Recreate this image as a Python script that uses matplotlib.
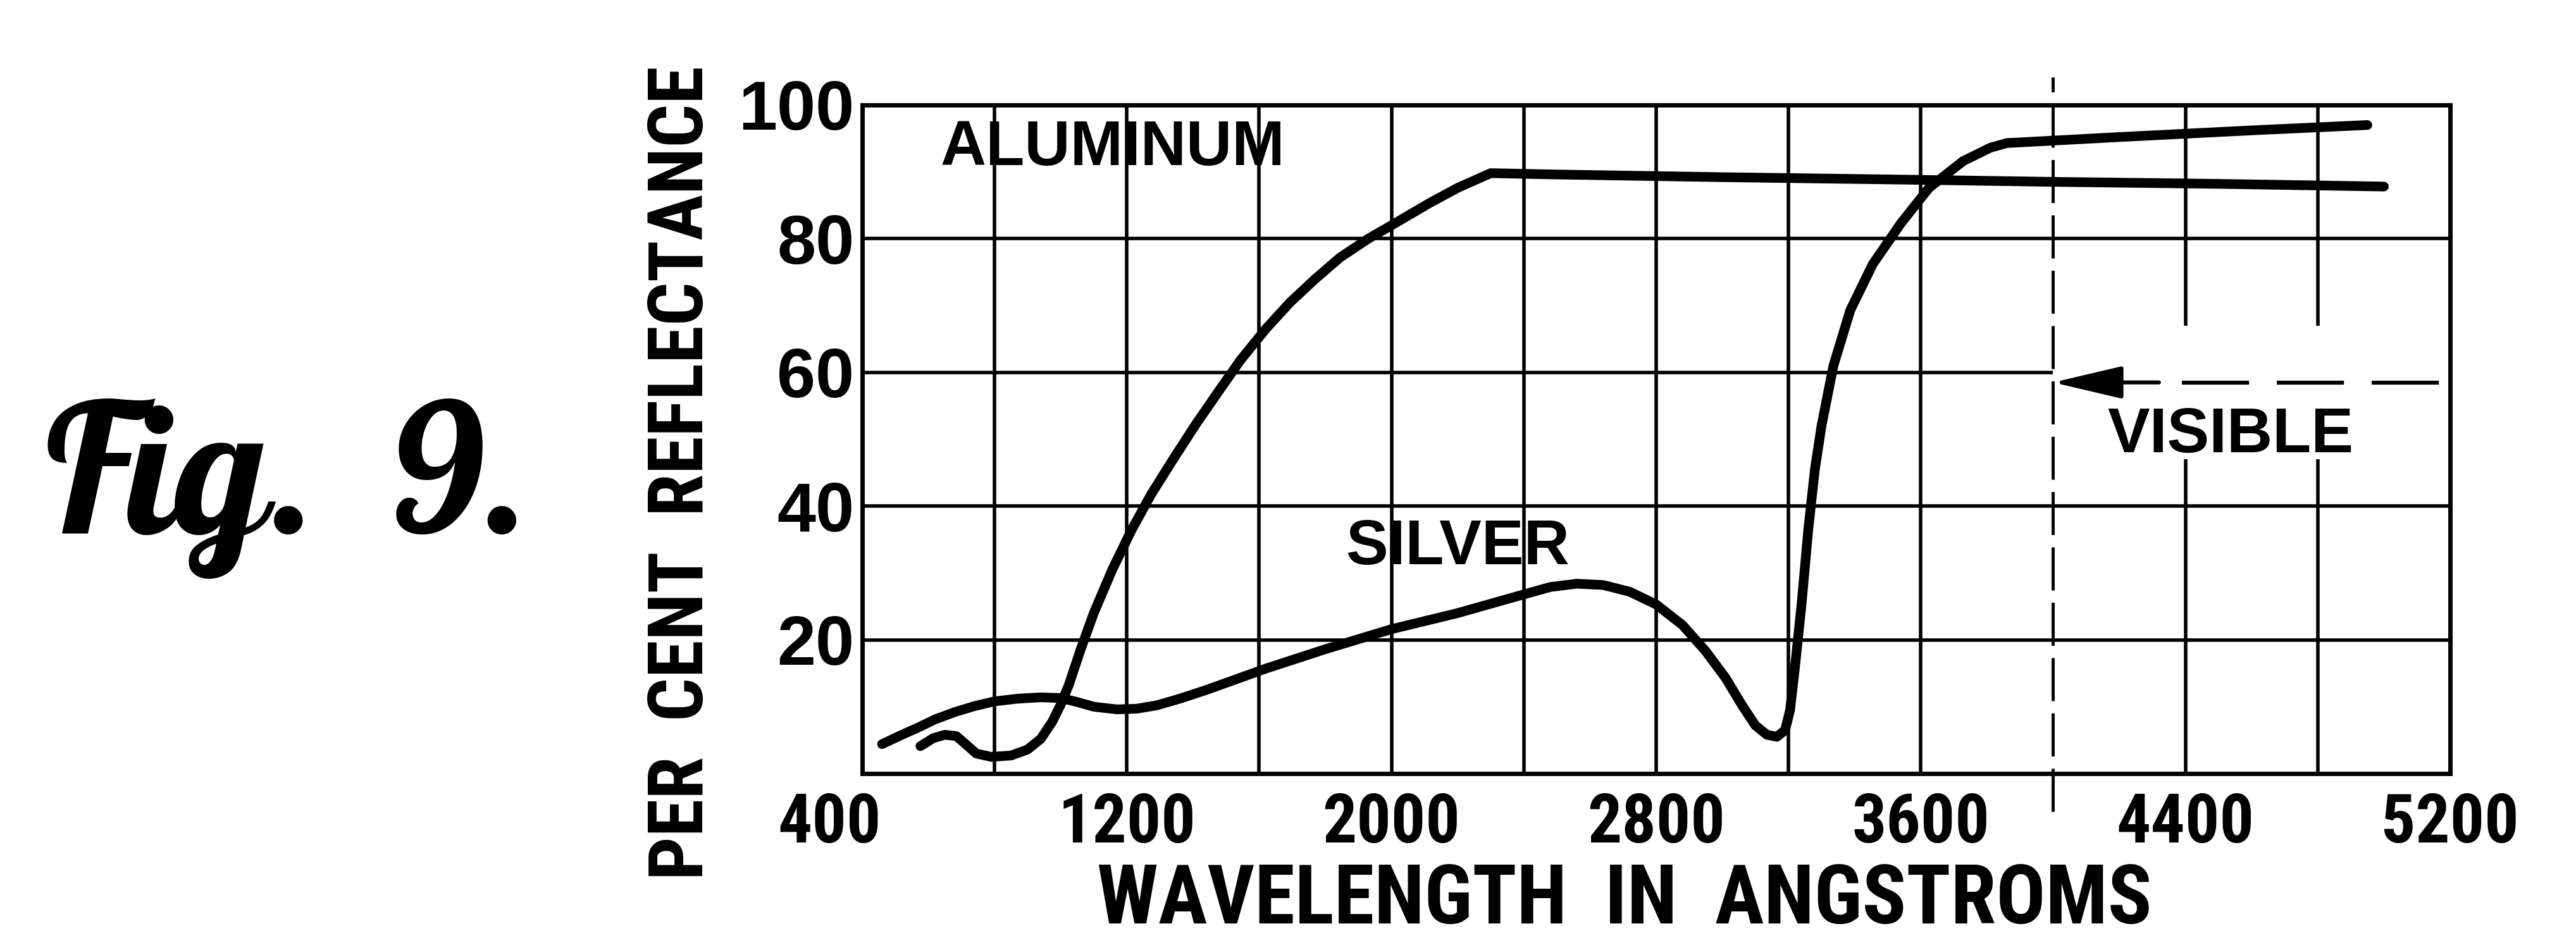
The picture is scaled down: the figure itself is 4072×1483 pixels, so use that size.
import matplotlib
matplotlib.use("Agg")
from matplotlib import pyplot as plt, font_manager
from matplotlib.transforms import ScaledTranslation

# values (wavelength in angstroms, per cent reflectance)
aluminum_x = [576, 615, 650, 685, 715, 745, 790, 850, 900, 940, 975, 1000, 1025, 1060,
              1100, 1156, 1215, 1274, 1340, 1408, 1475, 1543, 1620, 1694, 1770, 1845,
              1930, 2000, 2114, 2200, 2300, 2500, 3000, 3600, 4000, 4500, 5000]
aluminum_y = [4.1, 5.3, 5.8, 5.6, 4.3, 3.0, 2.5, 2.7, 3.6, 5.2, 7.8, 10.3, 13.3, 18.5,
              24.0, 30.5, 36.5, 41.8, 47.0, 52.2, 57.0, 61.8, 66.5, 70.5, 74.0, 77.2,
              80.0, 82.0, 85.3, 87.6, 89.8, 89.6, 89.2, 88.8, 88.5, 88.2, 87.8]

silver_x = [460, 520, 570, 620, 680, 740, 800, 870, 940, 1000, 1050, 1100, 1170, 1230,
            1290, 1360, 1440, 1620, 1800, 2000, 2200, 2400, 2480, 2560, 2640, 2720,
            2800, 2880, 2950, 3010, 3060, 3100, 3135, 3165, 3190, 3205, 3220, 3240,
            3260, 3280, 3300, 3336, 3387, 3455, 3540, 3625, 3728, 3810, 3860, 4200,
            4600, 4950]
silver_y = [4.4, 5.8, 6.9, 8.1, 9.2, 10.1, 10.8, 11.2, 11.4, 11.3, 10.7, 10.0, 9.6, 9.7,
            10.2, 11.2, 12.5, 15.7, 18.6, 21.6, 24.0, 26.8, 27.9, 28.4, 28.2, 27.2,
            25.3, 22.2, 18.3, 14.3, 10.2, 7.2, 5.8, 5.5, 6.5, 9.5, 16.0, 25.5,
            36.5, 45.5, 52.0, 61.0, 69.3, 76.2, 82.3, 87.6, 91.6, 93.6, 94.3, 95.2,
            96.2, 97.0]

x_ticks = [400, 1200, 2000, 2800, 3600, 4400, 5200]
y_ticks = [20, 40, 60, 80, 100]
grid_x = [800, 1200, 1600, 2000, 2400, 2800, 3200, 3600]
grid_x_broken = [4400, 4800]
grid_y = [20, 40, 80]
visible_start = 4000
arrow_level = 58.5


names = {f.name for f in font_manager.fontManager.ttflist}

def pick(cands, default):
    for c in cands:
        if c in names:
            return c
    return default

narrow = pick(["Roboto Condensed", "Archivo Narrow", "PT Sans Narrow", "IBM Plex Sans Condensed",
               "Fira Sans Condensed", "Barlow Semi Condensed", "Encode Sans Condensed",
               "Liberation Sans Narrow"], "Liberation Sans")
script = pick(["Lobster", "Oleo Script", "Kaushan Script"], "Liberation Serif")
sans = "Liberation Sans"

fig = plt.figure(figsize=(40.72, 14.83), dpi=100)
renderer = fig.canvas.get_renderer()

def fit(text, family, width_px, max_pt, **kw):
    # font size giving the wanted printed width, capped so letters don't get too tall
    t = fig.text(0, 0, text, family=family, fontsize=100, **kw)
    w = t.get_window_extent(renderer).width
    t.remove()
    return min(100 * width_px / w, max_pt)

ax = fig.add_axes([0.3347, 0.1753, 0.6164, 0.7128])
ax.set_xlim(400, 5200)
ax.set_ylim(0, 100)

grid_kw = dict(color="black", lw=4, zorder=1)
ax.vlines(grid_x, 0, 100, **grid_kw)
for gx in grid_x_broken:  # gap left for the VISIBLE label
    ax.vlines([gx, gx], [0, 67], [47, 100], **grid_kw)
ax.hlines(grid_y, 400, 5200, **grid_kw)
ax.hlines(60, 400, visible_start, **grid_kw)

line_kw = dict(color="black", lw=11, solid_joinstyle="round", solid_capstyle="round", zorder=3)
ax.plot(aluminum_x, aluminum_y, **line_kw)
ax.plot(silver_x, silver_y, **line_kw)

# visible region marker
ax.plot([visible_start, visible_start], [-5.7, 104.2], color="black", lw=3.5,
        dashes=(14, 4), clip_on=False, zorder=2)
ax.plot([4390, 5200], [arrow_level, arrow_level], color="black", lw=4.5,
        dashes=(17, 7), zorder=2)
ax.annotate("", xy=(visible_start, arrow_level), xytext=(4320, arrow_level),
            arrowprops=dict(arrowstyle="-|>,head_length=3.4,head_width=0.8",
                            mutation_scale=20, lw=4.5, color="black",
                            shrinkA=0, shrinkB=0))

txt_kw = dict(family=sans, weight="bold", fontsize=72, ha="center", va="center", zorder=4)
ax.text(1157, 93.5, "ALUMINUM", **txt_kw)
ax.text(2200, 33.8, "SILVER", **txt_kw)
ax.text(4536, 50.5, "VISIBLE", **txt_kw)

for s in ax.spines.values():
    s.set_linewidth(5)

xt_size = fit("1200", narrow, 218, 85, weight="bold")
ax.set_xticks(x_ticks)
ax.set_yticks(y_ticks)
ax.set_xticklabels([str(v) for v in x_ticks], family=narrow, weight="bold", fontsize=xt_size)
ax.set_yticklabels([str(v) for v in y_ticks], family=sans, weight="bold", fontsize=79)
ax.tick_params(axis="both", length=0)
ax.tick_params(axis="x", pad=20)
ax.tick_params(axis="y", pad=9)
first = ax.get_xticklabels()[0]
first.set_transform(first.get_transform() + ScaledTranslation(-0.52, 0, fig.dpi_scale_trans))

xlabel = "WAVELENGTH  IN  ANGSTROMS"
ax.set_xlabel(xlabel, family=narrow, weight="bold", fontsize=fit(xlabel, narrow, 1667, 96, weight="bold"),
              va="center")
ax.xaxis.set_label_coords(0.48, -0.19)
ylabel = "PER  CENT  REFLECTANCE"
ax.set_ylabel(ylabel, family=narrow, weight="bold", fontsize=fit(ylabel, narrow, 1286, 88, weight="bold"),
              va="center")
ax.yaxis.set_label_coords(-0.1135, 0.45)

fig_label = "Fig.  9."
fig.text(0.018, 0.431, fig_label, family=script, weight="bold",
         fontsize=fit(fig_label, script, 870, 205, weight="bold"), ha="left", va="baseline")

fig.savefig("out.png", dpi=100, facecolor="white")
